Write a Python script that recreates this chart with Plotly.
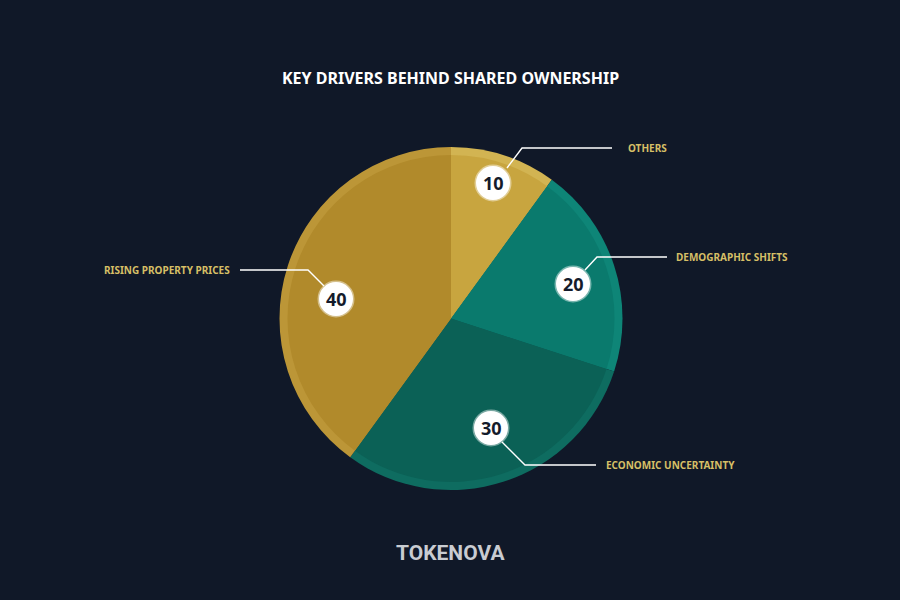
import plotly.graph_objects as go

# ================= data =================
CATEGORIES = ['Others', 'Demographic Shifts', 'Economic Uncertainty', 'Rising Property Prices']
VALUES = [10, 20, 30, 40]
TITLE = 'KEY DRIVERS BEHIND SHARED OWNERSHIP'
BRAND = 'TOKENOVA'

# ================= style =================
W, H = 900, 600
BG = '#101828'
SLICE_COLORS = ['#c8a53f', '#0a7a6d', '#0b6156', '#b18a2b']
EDGE_COLORS = ['#d2b452', '#0e8577', '#0e6c60', '#bc9637']
LABEL_GOLD = '#d6bf66'


def px(x):
    return x / W


def py(y):
    return 1 - y / H


# badge centre, leader path and label anchor in pixels (layout only)
BADGES = {
    'Others': dict(c=(493, 183), path=[(507, 168), (522, 148), (612, 148)], tx=626, ty=148, anchor='left'),
    'Demographic Shifts': dict(c=(573, 284), path=[(585, 270), (597, 257), (667, 257)], tx=674, ty=257, anchor='left'),
    'Economic Uncertainty': dict(c=(491, 428), path=[(502, 442), (525, 465), (596, 465)], tx=604, ty=465, anchor='left'),
    'Rising Property Prices': dict(c=(336, 299), path=[(324, 286), (308, 270), (240, 270)], tx=232, ty=270, anchor='right'),
}

fig = go.Figure()

# outer pie = light bevel, inner pie = main faces
fig.add_trace(go.Pie(
    labels=CATEGORIES, values=VALUES, sort=False, direction='clockwise', rotation=0,
    marker=dict(colors=EDGE_COLORS, line=dict(width=0)),
    textinfo='none', hoverinfo='skip', showlegend=False,
    domain=dict(x=[px(279), px(623)], y=[py(490), py(147)]),
))
fig.add_trace(go.Pie(
    labels=CATEGORIES, values=VALUES, sort=False, direction='clockwise', rotation=0,
    marker=dict(colors=SLICE_COLORS, line=dict(width=0)),
    textinfo='none', hoverinfo='skip', showlegend=False,
    domain=dict(x=[px(287), px(615)], y=[py(482), py(155)]),
))

shapes = []
annotations = []
for cat, val in zip(CATEGORIES, VALUES):
    b = BADGES[cat]
    d = 'M ' + ' L '.join(f'{px(x)},{py(y)}' for x, y in b['path'])
    shapes.append(dict(type='path', xref='paper', yref='paper', path=d,
                       line=dict(color='white', width=1.4)))
    cx, cy = b['c']
    shapes.append(dict(type='circle', xref='paper', yref='paper',
                       xsizemode='pixel', ysizemode='pixel',
                       xanchor=px(cx), yanchor=py(cy),
                       x0=-17, x1=17, y0=-17, y1=17,
                       fillcolor='white', line=dict(color='rgba(255,255,255,0.45)', width=3)))
    annotations.append(dict(x=px(cx), y=py(cy), xref='paper', yref='paper',
                            xanchor='center', yanchor='middle',
                            text=str(val), showarrow=False,
                            font=dict(family='Noto Sans', size=18, color='#141b2b', weight='bold')))
    annotations.append(dict(x=px(b['tx']), y=py(b['ty']), xref='paper', yref='paper',
                            xanchor=b['anchor'], yanchor='middle',
                            text=cat.upper(), showarrow=False,
                            font=dict(family='Noto Sans', size=10, color=LABEL_GOLD, weight='bold')))

# title and brand
annotations.append(dict(x=0.5, y=py(78), xref='paper', yref='paper', text=TITLE, showarrow=False,
                        xanchor='center', yanchor='middle',
                        font=dict(family='Noto Sans', size=16, color='white', weight='bold')))
annotations.append(dict(x=0.5, y=py(553), xref='paper', yref='paper', text=BRAND, showarrow=False,
                        xanchor='center', yanchor='middle',
                        font=dict(family='Roboto', size=21, color='#c9ccd2', weight='bold')))

fig.update_layout(
    width=W, height=H,
    paper_bgcolor=BG, plot_bgcolor=BG,
    margin=dict(l=0, r=0, t=0, b=0),
    shapes=shapes, annotations=annotations,
    showlegend=False,
)

# drop the default page margin so the chart fills the window
fig.write_html('out.html', config={'displayModeBar': False},
               post_script=f"document.body.style.margin='0';document.body.style.background='{BG}';")
